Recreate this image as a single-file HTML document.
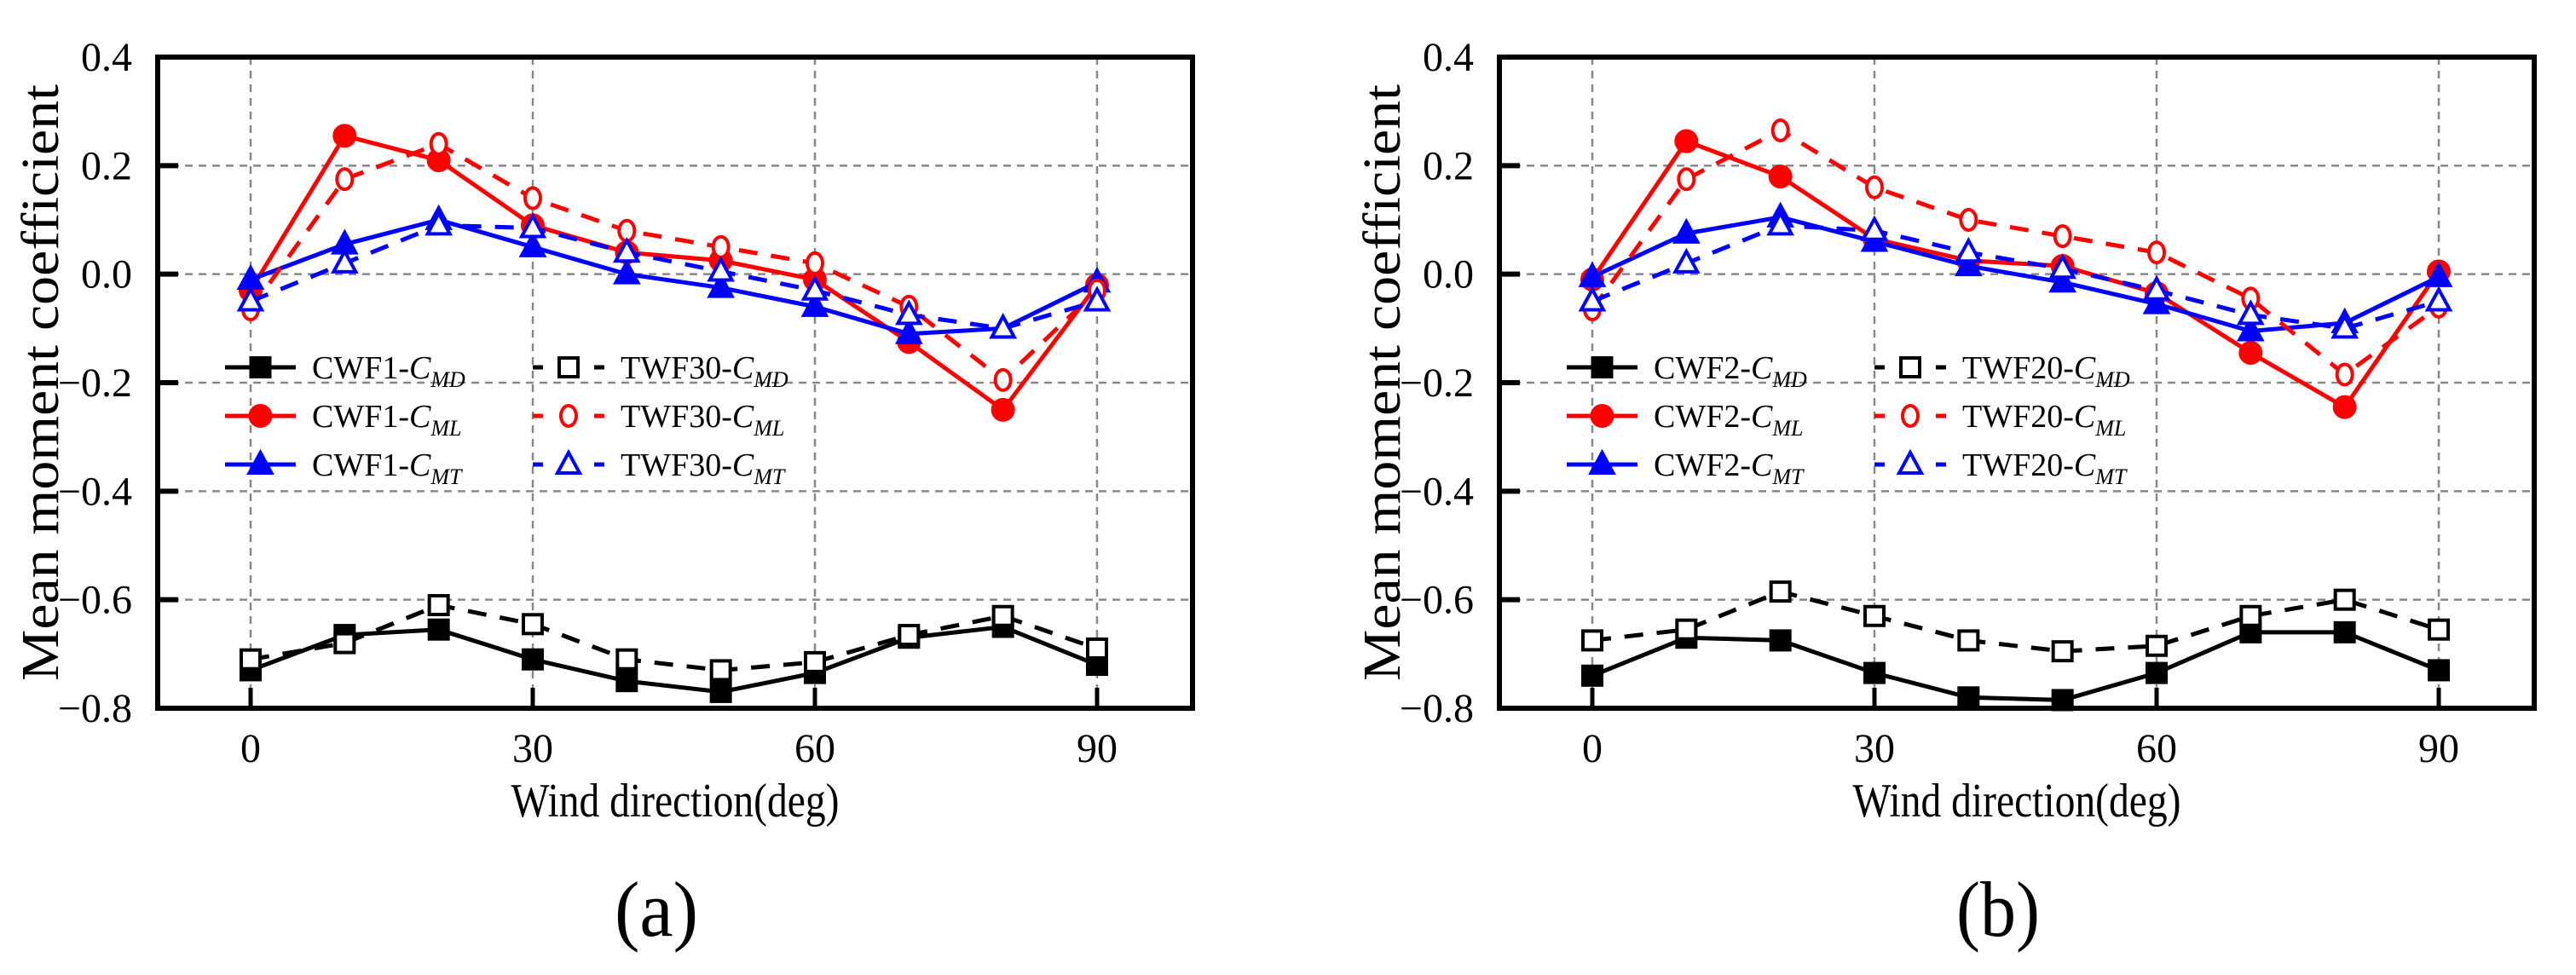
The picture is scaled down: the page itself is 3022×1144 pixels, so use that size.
<!DOCTYPE html>
<html><head><meta charset="utf-8">
<style>
html,body{margin:0;padding:0;background:#fff;}
svg{display:block;font-family:"Liberation Serif",serif;}
</style></head>
<body>
<svg id="chart" width="3022" height="1144" viewBox="0 0 3022 1144" xmlns="http://www.w3.org/2000/svg"></svg>
<script>
const xCategories = [0,10,20,30,40,50,60,70,80,90];
const xTicks = [0,30,60,90];
const yTicks = [0.4,0.2,0.0,-0.2,-0.4,-0.6,-0.8];
const yTickLabels = ["0.4","0.2","0.0","\u22120.2","\u22120.4","\u22120.6","\u22120.8"];

const aCwfMD = [-0.73,-0.665,-0.655,-0.71,-0.75,-0.77,-0.735,-0.67,-0.65,-0.72];
const aTwfMD = [-0.71,-0.68,-0.61,-0.645,-0.71,-0.73,-0.715,-0.665,-0.63,-0.69];
const aCwfML = [-0.03,0.255,0.21,0.09,0.04,0.025,-0.01,-0.125,-0.25,-0.02];
const aTwfML = [-0.065,0.175,0.24,0.14,0.08,0.05,0.02,-0.06,-0.195,-0.03];
const aCwfMT = [-0.01,0.055,0.1,0.05,0.0,-0.025,-0.06,-0.11,-0.1,-0.015];
const aTwfMT = [-0.05,0.02,0.09,0.085,0.04,0.005,-0.03,-0.075,-0.1,-0.05];

const bCwfMD = [-0.74,-0.67,-0.675,-0.735,-0.78,-0.785,-0.735,-0.66,-0.66,-0.73];
const bTwfMD = [-0.675,-0.655,-0.585,-0.63,-0.675,-0.695,-0.685,-0.63,-0.6,-0.655];
const bCwfML = [-0.01,0.245,0.18,0.065,0.025,0.015,-0.035,-0.145,-0.245,0.005];
const bTwfML = [-0.065,0.175,0.265,0.16,0.1,0.07,0.04,-0.045,-0.185,-0.06];
const bCwfMT = [-0.005,0.075,0.105,0.06,0.015,-0.015,-0.055,-0.105,-0.09,-0.005];
const bTwfMT = [-0.05,0.02,0.09,0.08,0.04,0.01,-0.03,-0.075,-0.1,-0.05];

const NS = "http://www.w3.org/2000/svg";
const svg = document.getElementById('chart');
function mk(tag, attrs, parent){
  const e = document.createElementNS(NS, tag);
  for (const k in attrs) e.setAttribute(k, attrs[k]);
  (parent||svg).appendChild(e);
  return e;
}

function marker(g, shape, color, x, y, filled){
  const fill = filled ? color : "#fff";
  if (shape === 'square') return mk('rect',{x:x-11,y:y-11,width:22,height:22,fill:fill,stroke:color,'stroke-width':4},g);
  if (shape === 'circle') return mk('ellipse',{cx:x,cy:y,rx:filled?12:9,ry:12,fill:fill,stroke:color,'stroke-width':4},g);
  return mk('polygon',{points:`${x},${y-14} ${x-13},${y+10} ${x+13},${y+10}`,fill:fill,stroke:color,'stroke-width':4},g);
}

function panel(id, left, label, leftLabel, rightLabel, series){
  const top = 67, bottom = 831, right = left + 1214;
  const x0 = left + 109, x90 = left + 1102;
  const xs = v => x0 + (v - 0) / 90 * (x90 - x0);
  const ys = v => top + (0.4 - v) / 1.2 * (bottom - top);
  const g = mk('g',{});
  
  

  const grid = mk('g',{},g);
  
  
  xTicks.forEach(t=>{ mk('line',{x1:xs(t),x2:xs(t),y1:top,y2:bottom,stroke:'#888','stroke-width':2.5,'stroke-dasharray':'9,7'},grid); });
  yTicks.forEach(t=>{ mk('line',{x1:left,x2:right,y1:ys(t),y2:ys(t),stroke:'#888','stroke-width':2.5,'stroke-dasharray':'9,7'},grid); });

  series.forEach(s=>{
    const sg = mk('g',{},g);
    
    
    const pts = xCategories.map((c,i)=>xs(c)+','+ys(s.vals[i])).join(' ');
    mk('polyline',{points:pts,fill:'none',stroke:s.color,'stroke-width':5,'stroke-dasharray':s.dash?'22,16':'none'},sg);
    xCategories.forEach((c,i)=>{ marker(sg, s.shape, s.color, xs(c), ys(s.vals[i]), !s.dash); });
  });

  const fr = mk('rect',{x:left,y:top,width:right-left,height:bottom-top,fill:'none',stroke:'#000','stroke-width':6},g);
  
  

  const ya = mk('g',{},g);
  
  
  yTicks.forEach((t,i)=>{
    mk('line',{x1:left,x2:left+24,y1:ys(t),y2:ys(t),stroke:'#000','stroke-width':6},ya);
    const tx = mk('text',{x:left-30,y:ys(t)+16,'text-anchor':'end','font-size':48,fill:'#000'},ya);
    tx.textContent = yTickLabels[i];
  });
  const xa = mk('g',{},g);
  
  
  xTicks.forEach(t=>{
    mk('line',{x1:xs(t),x2:xs(t),y1:bottom,y2:bottom-24,stroke:'#000','stroke-width':5},xa);
    const tx = mk('text',{x:xs(t),y:894,'text-anchor':'middle','font-size':48,fill:'#000'},xa);
    tx.textContent = t;
  });

  const xt = mk('text',{x:(left+right)/2,y:958,'text-anchor':'middle','font-size':56,fill:'#000',textLength:385,lengthAdjust:'spacingAndGlyphs'},g);
  xt.textContent = 'Wind direction(deg)';
  
  
  const yt = mk('text',{x:0,y:0,'text-anchor':'middle','font-size':62,fill:'#000',textLength:700,lengthAdjust:'spacingAndGlyphs',transform:`translate(${left-117},${(top+bottom)/2}) rotate(-90)`},g);
  yt.textContent = 'Mean moment coefficient';
  
  
  const cap = mk('text',{x:left+585,y:1098,'text-anchor':'middle','font-size':92,fill:'#000',textLength:98,lengthAdjust:'spacingAndGlyphs'},g);
  cap.textContent = label;
  
  

  const lg = mk('g',{},g);
  
  
  const rows = [431,488,545];
  const subs = ['MD','ML','MT'];
  series.forEach((s,i)=>{
    const col = s.dash ? 1 : 0;
    const row = rows[i % 3];
    const lx1 = left + (col ? 440 : 79), lx2 = left + (col ? 524 : 162);
    const tx0 = left + (col ? 543 : 181);
    const le = mk('g',{},lg);
    
    
    mk('line',{x1:lx1,x2:lx2,y1:row,y2:row,stroke:s.color,'stroke-width':5,'stroke-dasharray':s.dash?'12,22,12,26,12':'none'},le);
    marker(le, s.shape, s.color, (lx1+lx2)/2, row, !s.dash);
    const t = mk('text',{x:tx0,y:row+13,'font-size':38,fill:'#000'},le);
    t.textContent = (col ? rightLabel : leftLabel) + '-';
    const c = mk('tspan',{'font-style':'italic'},t); c.textContent = 'C';
    const sb = mk('tspan',{'font-style':'italic','font-size':26,dy:10},t); sb.textContent = subs[i % 3];
  });
}

panel('panel-a', 185, '(a)', 'CWF1', 'TWF30', [
  {name:'cwf1-cmd',vals:aCwfMD,color:'#000',shape:'square',dash:false},
  {name:'cwf1-cml',vals:aCwfML,color:'#ff0000',shape:'circle',dash:false},
  {name:'cwf1-cmt',vals:aCwfMT,color:'#0000ff',shape:'tri',dash:false},
  {name:'twf30-cmd',vals:aTwfMD,color:'#000',shape:'square',dash:true},
  {name:'twf30-cml',vals:aTwfML,color:'#ff0000',shape:'circle',dash:true},
  {name:'twf30-cmt',vals:aTwfMT,color:'#0000ff',shape:'tri',dash:true}
]);
panel('panel-b', 1759, '(b)', 'CWF2', 'TWF20', [
  {name:'cwf2-cmd',vals:bCwfMD,color:'#000',shape:'square',dash:false},
  {name:'cwf2-cml',vals:bCwfML,color:'#ff0000',shape:'circle',dash:false},
  {name:'cwf2-cmt',vals:bCwfMT,color:'#0000ff',shape:'tri',dash:false},
  {name:'twf20-cmd',vals:bTwfMD,color:'#000',shape:'square',dash:true},
  {name:'twf20-cml',vals:bTwfML,color:'#ff0000',shape:'circle',dash:true},
  {name:'twf20-cmt',vals:bTwfMT,color:'#0000ff',shape:'tri',dash:true}
]);
</script>
</body></html>
